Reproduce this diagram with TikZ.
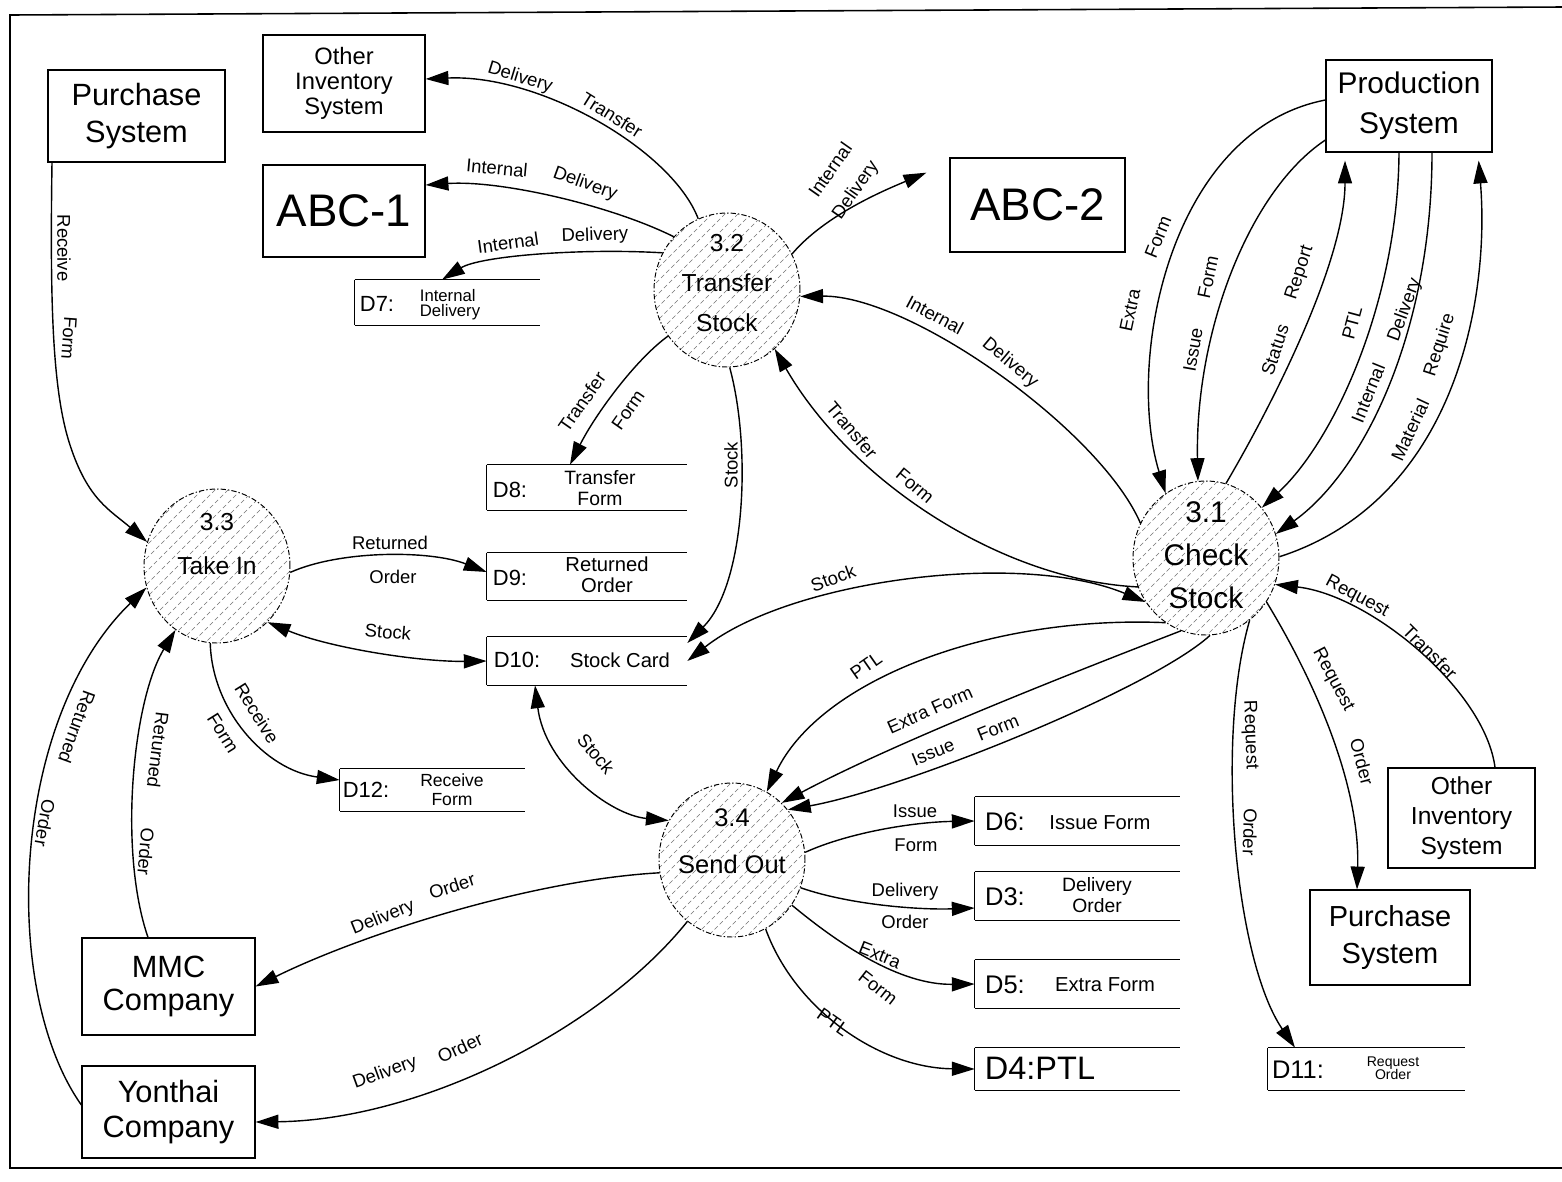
\documentclass[tikz,border=0pt]{standalone}
\usepackage{fontspec}
\setmainfont{Liberation Sans}
\usetikzlibrary{arrows.meta,shapes.geometric}

\newcommand{\fsz}[2]{\fontsize{#1}{#2}\selectfont}

\begin{document}
\begin{tikzpicture}[x=0.02cm,y=-0.02cm,
  ent/.style={draw, line width=0.7pt, inner sep=0pt, align=center},
  hatchline/.style={black!55, line width=0.35pt, dash pattern=on 2.5pt off 1.6pt},
  proc/.style={ellipse, draw, line width=0.55pt,
    dash pattern=on 3pt off 1.2pt on 0.8pt off 1.2pt,
    minimum width=2.92cm, minimum height=3.08cm, inner sep=0pt,
    path picture={\foreach \k in {-14,...,14}{
      \draw[hatchline] ([shift={({\k*0.26cm-2cm},-2cm)}]path picture bounding box.center) -- ++(4cm,4cm);}}},
  ptext/.style={align=center, inner sep=0pt},
  storeline/.style={draw, line width=0.8pt},
  store/.style={inner sep=0pt, append after command={
    (\tikzlastnode.north west) edge[storeline] (\tikzlastnode.north east)
    (\tikzlastnode.south west) edge[storeline] (\tikzlastnode.south east)
    (\tikzlastnode.north west) edge[storeline] (\tikzlastnode.south west)}},
  sidl/.style={inner sep=0pt, font=\fsz{12.5}{14}},
  sidr/.style={inner sep=0pt, font=\fsz{14.5}{16}},
  sdesc/.style={inner sep=0pt, align=center, font=\fsz{11.5}{12}},
  lbl/.style={inner sep=0pt, font=\fsz{10.5}{12}},
  flow/.style={line width=0.8pt, -{Triangle[length=13pt,width=8pt]}},
  flowboth/.style={line width=0.8pt, {Triangle[length=13pt,width=8pt]}-{Triangle[length=13pt,width=8pt]}}
]
\useasboundingbox (0,0) rectangle (1562,1181);

% outer frame
\draw[line width=0.9pt] (1562,7) -- (10,15) -- (10,1168) -- (1562,1168);

% external entities
\node[ent, minimum width=3.54cm, minimum height=1.84cm, font=\fsz{17.5}{21}] (purL) at (136.5,116) {Purchase\\System};
\node[ent, minimum width=3.24cm, minimum height=1.94cm, font=\fsz{13.5}{14.2}] (othT) at (344,83.5) {Other\\Inventory\\System};
\node[ent, minimum width=3.24cm, minimum height=1.84cm, font=\fsz{26}{30}] (abc1) at (344,211) {ABC-1};
\node[ent, minimum width=3.5cm, minimum height=1.88cm, font=\fsz{26}{30}] (abc2) at (1037.5,205) {ABC-2};
\node[ent, minimum width=3.32cm, minimum height=1.84cm, font=\fsz{17}{22.7}] (prod) at (1409,106) {Production\\System};
\node[ent, minimum width=2.94cm, minimum height=2.0cm, font=\fsz{14}{17}] (othR) at (1461.5,818) {Other\\Inventory\\System};
\node[ent, minimum width=3.2cm, minimum height=1.9cm, font=\fsz{16.5}{21.5}] (purR) at (1390,937.5) {Purchase\\System};
\node[ent, minimum width=3.46cm, minimum height=1.94cm, font=\fsz{17.5}{18.7}] (mmc) at (168.5,986.5) {MMC\\Company};
\node[ent, minimum width=3.46cm, minimum height=1.84cm, font=\fsz{17.5}{20}] (yon) at (168.5,1112) {Yonthai\\Company};

% processes
\node[proc] (p32) at (727,290) {};
\node[ptext, font=\fsz{14}{22.7}] (p32t) at (727,283) {3.2\\Transfer\\Stock};
\node[proc] (p31) at (1206,558) {};
\node[ptext, font=\fsz{17}{24.4}] (p31t) at (1206,555) {3.1\\Check\\Stock};
\node[proc] (p33) at (217,566) {};
\node[ptext, font=\fsz{14}{25.5}] (p33t) at (217,544) {3.3\\Take In};
\node[proc] (p34) at (732,860) {};
\node[ptext, font=\fsz{14.5}{26.6}] (p34t) at (732,841) {3.4\\Send Out};

% data stores
\node[store, minimum width=3.7cm, minimum height=0.9cm] (d7) at (447.5,302.5) {};
\node[sidl] (d7i) at (377,304) {D7:};
\node[sdesc, align=left, font=\fsz{9.5}{8.5}] (d7d) at (450,305) {Internal\\Delivery};

\node[store, minimum width=4cm, minimum height=0.9cm] (d8) at (587,487.5) {};
\node[sidl] (d8i) at (510,490) {D8:};
\node[sdesc, font=\fsz{11}{12}] (d8d) at (600,488) {Transfer\\Form};

\node[store, minimum width=4cm, minimum height=0.94cm] (d9) at (587,576.5) {};
\node[sidl] (d9i) at (510,578) {D9:};
\node[sdesc] (d9d) at (607,575) {Returned\\Order};

\node[store, minimum width=4cm, minimum height=0.96cm] (d10) at (587,661) {};
\node[sidl] (d10i) at (517,660) {D10:};
\node[sdesc] (d10d) at (620,660) {Stock Card};

\node[store, minimum width=3.7cm, minimum height=0.84cm] (d12) at (432.5,790) {};
\node[sidl] (d12i) at (366,790) {D12:};
\node[sdesc, font=\fsz{10}{11}] (d12d) at (452,790) {Receive\\Form};

\node[store, minimum width=4.1cm, minimum height=0.96cm] (d6) at (1077.5,821) {};
\node[sidr] (d6i) at (1005,822) {D6:};
\node[sdesc] (d6d) at (1100,823) {Issue Form};

\node[store, minimum width=4.1cm, minimum height=0.96cm] (d3) at (1077.5,896) {};
\node[sidr] (d3i) at (1005,897) {D3:};
\node[sdesc, font=\fsz{11}{12}] (d3d) at (1097,895) {Delivery\\Order};

\node[store, minimum width=4.1cm, minimum height=0.96cm] (d5) at (1077.5,984) {};
\node[sidr] (d5i) at (1005,985) {D5:};
\node[sdesc] (d5d) at (1105,985) {Extra Form};

\node[store, minimum width=4.1cm, minimum height=0.84cm] (d4) at (1077.5,1069) {};
\node[inner sep=0pt, font=\fsz{18.5}{20}] (d4i) at (1040,1068) {D4:PTL};

\node[store, minimum width=3.94cm, minimum height=0.84cm] (d11) at (1366.5,1069) {};
\node[sidr] (d11i) at (1298,1070) {D11:};
\node[sdesc, font=\fsz{8}{7.5}] (d11d) at (1393,1068) {Request\\Order};

% flows around 3.2 Transfer Stock
\draw[flow] (p32.112) .. controls (672,150) and (540,74) .. (othT.east |- 0,79);
\node[lbl, rotate=-17] (l1a) at (520,78) {Delivery};
\node[lbl, rotate=-32] (l1b) at (612,115) {Transfer};

\draw[flow] (p32.135) .. controls (610,205) and (500,180) .. (abc1.east |- 0,185);
\node[lbl, rotate=-5] (l2a) at (497,168) {Internal};
\node[lbl, rotate=-20] (l2b) at (585,184) {Delivery};

\draw[flow] (p32.150) .. controls (580,248) and (480,256) .. (d7.north -| 442,0);
\node[lbl, rotate=8] (l3a) at (508,243) {Internal};
\node[lbl, rotate=2] (l3b) at (595,236) {Delivery};

\draw[flow, shorten >=0.5cm] (p32.29) .. controls (825,215) and (885,190) .. (abc2.west |- 0,163);
\node[lbl, rotate=55] (l4a) at (830,170) {Internal};
\node[lbl, rotate=55] (l4b) at (856,190) {Delivery};

\draw[flow] (p31.152) .. controls (1100,430) and (910,295) .. (p32.355);
\node[lbl, rotate=-28] (l5a) at (935,315) {Internal};
\node[lbl, rotate=-40] (l5b) at (1010,363) {Delivery};

\draw[flow] (p31.203) .. controls (1000,580) and (850,480) .. (p32.309);
\node[lbl, rotate=-50] (l6a) at (852,430) {Transfer};
\node[lbl, rotate=-40] (l6b) at (915,486) {Form};

\draw[flow] (p32.218) .. controls (635,360) and (595,415) .. (d8.north -| 570,0);
\node[lbl, rotate=55] (l7a) at (582,402) {Transfer};
\node[lbl, rotate=55] (l7b) at (628,410) {Form};

\draw[flow] (p32.272) .. controls (752,450) and (745,585) .. (d10.east |- 0,643);
\node[lbl, rotate=90] (l8) at (731,465) {Stock};

% flows around 3.1 Check Stock
\draw[flowboth] (p31.216) .. controls (1020,550) and (790,580) .. (d10.east);
\node[lbl, rotate=20] (l9) at (833,578) {Stock};

\draw[flow] (p31.238) .. controls (990,615) and (820,680) .. (p34.63);
\node[lbl, rotate=35] (l10) at (866,666) {PTL};

\draw[flow] (p31.251) .. controls (1080,670) and (900,740) .. (p34.49);
\node[lbl, rotate=24] (l11) at (930,710) {Extra Form};

\draw[flow] (p31.273) .. controls (1150,690) and (900,790) .. (p34.42);
\node[lbl, rotate=22] (l12a) at (933,752) {Issue};
\node[lbl, rotate=22] (l12b) at (998,728) {Form};

\draw[flow] (prod.west |- 0,100) .. controls (1170,130) and (1125,360) .. (p31.122);
\node[lbl, rotate=78] (l13a) at (1130,310) {Extra};
\node[lbl, rotate=68] (l13b) at (1158,237) {Form};

\draw[flow] (prod.west |- 0,140) .. controls (1250,190) and (1195,330) .. (p31.96);
\node[lbl, rotate=80] (l14a) at (1193,350) {Issue};
\node[lbl, rotate=78] (l14b) at (1208,277) {Form};

\draw[flow, shorten >=0.16cm] (p31.75) .. controls (1275,400) and (1345,260) .. (prod.south -| 1345,0);
\node[lbl, rotate=72] (l15a) at (1275,350) {Status};
\node[lbl, rotate=72] (l15b) at (1300,273) {Report};

\draw[flow] (prod.south -| 1399,0) .. controls (1398,300) and (1335,440) .. (p31.42);
\node[lbl, rotate=75] (l16) at (1352,323) {PTL};

\draw[flow] (prod.south -| 1432,0) .. controls (1432,330) and (1365,470) .. (p31.19);
\node[lbl, rotate=68] (l17a) at (1368,393) {Internal};
\node[lbl, rotate=70] (l17b) at (1405,310) {Delivery};

\draw[flow, shorten >=0.16cm] (p31.1) .. controls (1455,500) and (1490,300) .. (prod.south -| 1478,0);
\node[lbl, rotate=65] (l18a) at (1410,430) {Material};
\node[lbl, rotate=72] (l18b) at (1440,345) {Require};

\draw[flow] (othR.north -| 1495,0) .. controls (1485,690) and (1370,595) .. (p31.339);
\node[lbl, rotate=-28] (l19a) at (1357,597) {Request};
\node[lbl, rotate=-45] (l19b) at (1430,652) {Transfer};

\draw[flow] (p31.324) .. controls (1320,690) and (1360,790) .. (purR.north -| 1357,0);
\node[lbl, rotate=-62] (l20a) at (1333,680) {Request};
\node[lbl, rotate=-75] (l20b) at (1362,762) {Order};

\draw[flow] (p31.305) .. controls (1215,740) and (1235,960) .. (d11.north -| 1295,0);
\node[lbl, rotate=-88] (l21a) at (1250,735) {Request};
\node[lbl, rotate=-92] (l21b) at (1250,832) {Order};

% flows around 3.3 Take In
\draw[flow] (purL.south -| 52,0) .. controls (50,300) and (52,390) .. (70,445) .. controls (88,500) and (110,510) .. (p33.161);
\node[lbl, rotate=-90] (l22a) at (64,248) {Receive};
\node[lbl, rotate=-94] (l22b) at (69,338) {Form};

\draw[flow] (p33.355) .. controls (340,550) and (430,550) .. (d9.west |- 0,572);
\node[lbl] (l23a) at (390,543) {Returned};
\node[lbl] (l23b) at (393,577) {Order};

\draw[flowboth] (p33.312) .. controls (330,648) and (420,662) .. (d10.west);
\node[lbl, rotate=-5] (l24) at (388,632) {Stock};

\draw[flow] (p33.265) .. controls (212,710) and (265,770) .. (d12.west |- 0,780);
\node[lbl, rotate=-58] (l25a) at (257,713) {Receive};
\node[lbl, rotate=-58] (l25b) at (223,733) {Form};

\draw[flow] (mmc.north -| 148,0) .. controls (118,850) and (133,700) .. (p33.237);
\node[lbl, rotate=-97] (l26a) at (158,750) {Returned};
\node[lbl, rotate=-95] (l26b) at (146,852) {Order};

\draw[flow] (yon.west |- 0,1105) .. controls (0,990) and (10,720) .. (p33.197);
\node[lbl, rotate=-110] (l27a) at (77,727) {Returned};
\node[lbl, rotate=-100] (l27b) at (45,823) {Order};

% flows around 3.4 Send Out
\draw[flowboth] (d10.south -| 535,0) .. controls (545,765) and (610,815) .. (p34.148);
\node[lbl, rotate=-50] (l28) at (596,754) {Stock};

\draw[flow] (p34.6) .. controls (850,832) and (915,822) .. (d6.west);
\node[lbl] (l29a) at (915,811) {Issue};
\node[lbl] (l29b) at (916,845) {Form};

\draw[flow] (p34.338) .. controls (850,905) and (920,910) .. (d3.west |- 0,908);
\node[lbl] (l30a) at (905,892) {Delivery};
\node[lbl] (l30b) at (905,922) {Order};

\draw[flow] (p34.323) .. controls (840,945) and (900,985) .. (d5.west);
\node[lbl, rotate=-22] (l31a) at (880,955) {Extra};
\node[lbl, rotate=-38] (l31b) at (878,988) {Form};

\draw[flow] (p34.296) .. controls (795,1010) and (880,1068) .. (d4.west);
\node[lbl, rotate=-35] (l32) at (833,1022) {PTL};

\draw[flow] (p34.190) .. controls (530,880) and (360,935) .. (mmc.east);
\node[lbl, rotate=22] (l33a) at (383,918) {Delivery};
\node[lbl, rotate=18] (l33b) at (452,886) {Order};

\draw[flow] (p34.234) .. controls (600,1030) and (420,1120) .. (yon.east |- 0,1122);
\node[lbl, rotate=20] (l34a) at (385,1073) {Delivery};
\node[lbl, rotate=25] (l34b) at (460,1048) {Order};

\end{tikzpicture}
\end{document}
